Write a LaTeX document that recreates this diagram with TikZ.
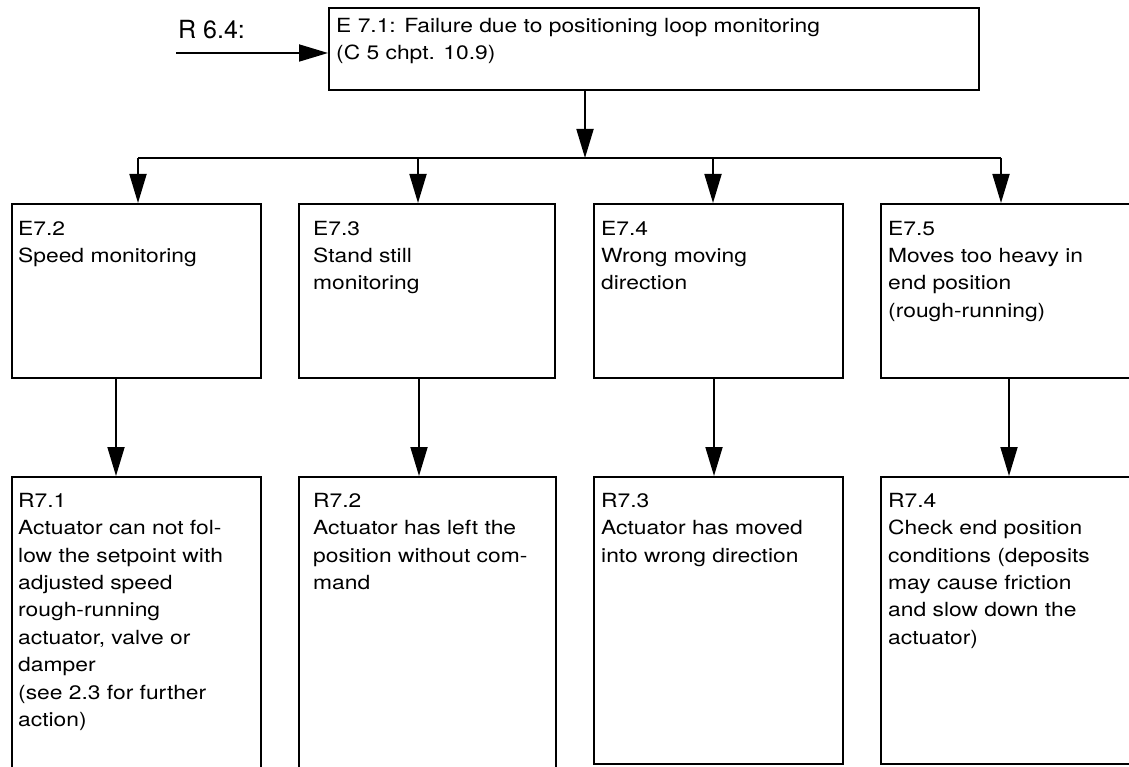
\documentclass[tikz,border=0pt]{standalone}
\usepackage{fontspec}
\setmainfont{TeX Gyre Heros}
\newfontfamily\boxfont{TeX Gyre Heros}[FakeStretch=1.17]
\usetikzlibrary{arrows.meta}
\newcommand\myfirst{\rule{0pt}{15pt}}
\begin{document}
\begin{tikzpicture}[x=1pt,y=-1pt,
  box/.style={draw, line width=1.8pt, anchor=north west, inner sep=0pt},
  txt/.style={anchor=north west, inner sep=0pt, align=left, font=\boxfont\fontsize{19.5}{27.4}\selectfont},
  conn/.style={line width=1.8pt},
  arr/.style={line width=1.8pt, -{Triangle[length=29pt,width=17pt]}}]
\useasboundingbox (0,0) rectangle (1129,767);
\clip (0,0) rectangle (1129,767);
% boxes
\node[box, minimum width=650pt, minimum height=82pt] (e1) at (328,7) {};
\node[box, minimum width=249pt, minimum height=174pt] (e2) at (11,203) {};
\node[box, minimum width=256pt, minimum height=174pt] (e3) at (298,203) {};
\node[box, minimum width=249pt, minimum height=174pt] (e4) at (593,203) {};
\node[box, minimum width=260pt, minimum height=174pt] (e5) at (880,203) {};
\node[box, minimum width=249pt, minimum height=320pt] (r1) at (11,476) {};
\node[box, minimum width=257pt, minimum height=320pt] (r2) at (298,476) {};
\node[box, minimum width=249pt, minimum height=287pt] (r3) at (593,476) {};
\node[box, minimum width=260pt, minimum height=287pt] (r4) at (880,476) {};
% texts
\node[txt] (e1t) at (336,17) {\myfirst E 7.1: Failure due to positioning loop monitoring\\(C 5 chpt. 10.9)};
\node[txt] (e2t) at (18,220) {\myfirst E7.2\\Speed monitoring};
\node[txt] (e3t) at (313,220) {\myfirst E7.3\\Stand still\\monitoring};
\node[txt] (e4t) at (601,220) {\myfirst E7.4\\Wrong moving\\direction};
\node[txt] (e5t) at (888,220) {\myfirst E7.5\\Moves too heavy in\\end position\\(rough-running)};
\node[txt] (r1t) at (18,492) {\myfirst R7.1\\Actuator can not fol-\\low the setpoint with\\adjusted speed\\rough-running\\actuator, valve or\\damper\\(see 2.3 for further\\action)};
\node[txt] (r2t) at (313,492) {\myfirst R7.2\\Actuator has left the\\position without com-\\mand};
\node[txt] (r3t) at (601,492) {\myfirst R7.3\\Actuator has moved\\into wrong direction};
\node[txt] (r4t) at (888,492) {\myfirst R7.4\\Check end position\\conditions (deposits\\may cause friction\\and slow down the\\actuator)};
% incoming arrow
\node[anchor=base west, inner sep=0pt, font=\fontsize{25}{30}\selectfont] (lab) at (178,39) {R 6.4:};
\coordinate (s) at (176,53);
\draw[arr] (s) -- (s -| e1.west);
% branch
\coordinate (b0) at (585,158);
\coordinate (b1) at (138,158);
\coordinate (b2) at (418,158);
\coordinate (b3) at (713,158);
\coordinate (b4) at (1001,158);
\draw[arr] (e1.south -| b0) -- (b0);
\draw[conn] (b1) -- (b4);
\draw[arr] (b1) -- (b1 |- e2.north);
\draw[arr] (b2) -- (b2 |- e3.north);
\draw[arr] (b3) -- (b3 |- e4.north);
\draw[arr] (b4) -- (b4 |- e5.north);
% lower connectors
\coordinate (c1) at (116,0);
\coordinate (c2) at (419,0);
\coordinate (c3) at (714,0);
\coordinate (c4) at (1009,0);
\draw[arr] (e2.south -| c1) -- (r1.north -| c1);
\draw[arr] (e3.south -| c2) -- (r2.north -| c2);
\draw[arr] (e4.south -| c3) -- (r3.north -| c3);
\draw[arr] (e5.south -| c4) -- (r4.north -| c4);
\end{tikzpicture}
\end{document}
